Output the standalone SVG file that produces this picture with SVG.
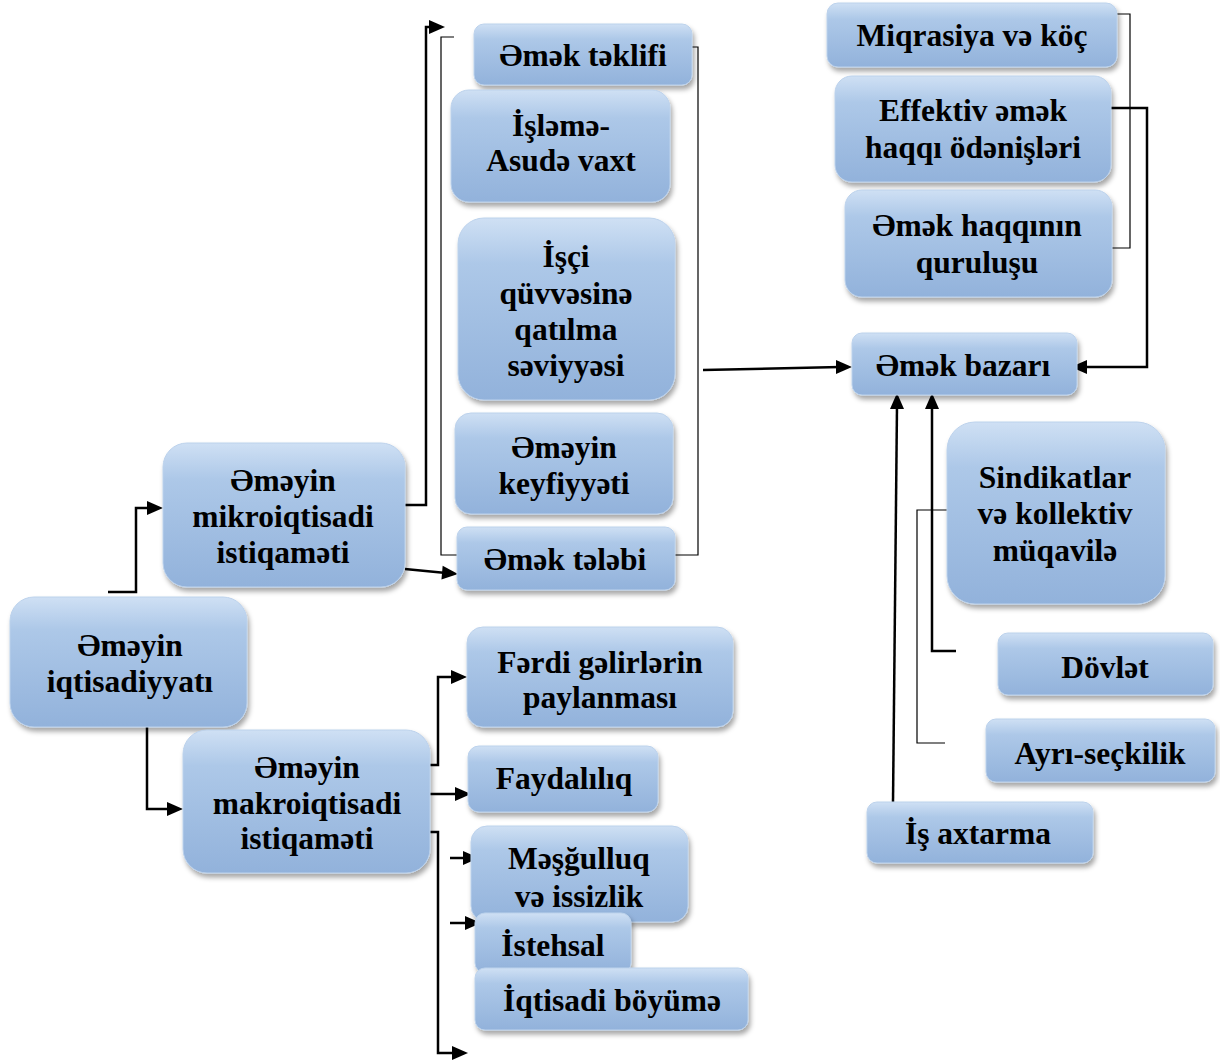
<svg xmlns="http://www.w3.org/2000/svg" width="1220" height="1063" viewBox="0 0 1220 1063">
<defs>
<linearGradient id="g" x1="0" y1="0" x2="0" y2="1">
<stop offset="0" stop-color="#cfe0f4"/>
<stop offset="0.25" stop-color="#adc8e8"/>
<stop offset="1" stop-color="#92b2db"/>
</linearGradient>
<filter id="sh" x="-10%" y="-10%" width="125%" height="130%">
<feDropShadow dx="2" dy="4" stdDeviation="2.5" flood-color="#000" flood-opacity="0.35"/>
</filter>
<path id="ar" d="M-16,-7 L0,0 L-16,7 z" fill="#000"/>
</defs>
<style>
.n rect{fill:url(#g);stroke:#bcd2ec;stroke-width:1;filter:url(#sh)}
.n text{font-family:"Liberation Serif","Times New Roman",serif;font-weight:bold;font-size:31.5px;fill:#000;text-anchor:middle}
.c{fill:none;stroke:#000;stroke-width:2.5}
.t{fill:none;stroke:#000;stroke-width:1.2}
</style>

<g id="connectors">
<path class="c" d="M108,592 H136 V508 H150"/>
<use href="#ar" x="163" y="508"/>
<path class="c" d="M117,722 H147 V809 H170"/>
<use href="#ar" x="183" y="809"/>
<path class="c" d="M405,505 H426 V27 H432"/>
<use href="#ar" x="445" y="27"/>
<path class="c" d="M405,569 L446,573"/>
<use href="#ar" transform="translate(458,574) rotate(5)"/>
<path class="t" d="M454,37 H441 V555 H457"/>
<path class="t" d="M692,47 H698 V555 H675"/>
<path class="c" d="M703,370 L840,367"/>
<use href="#ar" x="852" y="367"/>
<path class="t" d="M1117,14 H1130 V248 H1112"/>
<path class="c" d="M1111,108 H1147 V367 H1083"/>
<use href="#ar" transform="translate(1071,367) rotate(180)"/>
<path class="c" d="M893,802 L897,405"/>
<use href="#ar" transform="translate(897,393) rotate(-90)"/>
<path class="c" d="M956,651 H932 V405"/>
<use href="#ar" transform="translate(932,393) rotate(-90)"/>
<path class="t" d="M947,510 H917 V743 H945"/>
<path class="c" d="M430,765 H438 V677 H455"/>
<use href="#ar" x="467" y="677"/>
<path class="c" d="M430,794 H459"/>
<use href="#ar" x="471" y="794"/>
<path class="c" d="M430,832 H438 V1053 H456"/>
<use href="#ar" x="468" y="1053"/>
<path class="c" d="M450,858 H467"/>
<use href="#ar" x="479" y="858"/>
<path class="c" d="M450,923 H469"/>
<use href="#ar" x="481" y="923"/>
</g>

<g id="n-teklif" class="n"><rect x="474" y="24" width="218" height="61" rx="10"/><text x="583" y="66">Əmək təklifi</text></g>
<g id="n-isleme" class="n"><rect x="451" y="90" width="219" height="112" rx="18"/><text x="561" y="136">İşləmə-</text><text x="561" y="171">Asudə vaxt</text></g>
<g id="n-isci" class="n"><rect x="458" y="218" width="217" height="182" rx="26"/><text x="566" y="267">İşçi</text><text x="566" y="304">qüvvəsinə</text><text x="566" y="340">qatılma</text><text x="566" y="376">səviyyəsi</text></g>
<g id="n-keyfiyyet" class="n"><rect x="455" y="413" width="218" height="101" rx="16"/><text x="564" y="458">Əməyin</text><text x="564" y="494">keyfiyyəti</text></g>
<g id="n-teleb" class="n"><rect x="457" y="527" width="218" height="63" rx="10"/><text x="565" y="570">Əmək tələbi</text></g>
<g id="n-mikro" class="n"><rect x="163" y="443" width="242" height="144" rx="24"/><text x="283" y="491">Əməyin</text><text x="283" y="527">mikroiqtisadi</text><text x="283" y="563">istiqaməti</text></g>
<g id="n-iqtisadiyyat" class="n"><rect x="10" y="597" width="237" height="130" rx="24"/><text x="130" y="656">Əməyin</text><text x="130" y="692">iqtisadiyyatı</text></g>
<g id="n-makro" class="n"><rect x="183" y="730" width="247" height="143" rx="24"/><text x="307" y="778">Əməyin</text><text x="307" y="814">makroiqtisadi</text><text x="307" y="849">istiqaməti</text></g>
<g id="n-ferdi" class="n"><rect x="467" y="627" width="266" height="100" rx="16"/><text x="600" y="673">Fərdi gəlirlərin</text><text x="600" y="708">paylanması</text></g>
<g id="n-faydalilig" class="n"><rect x="468" y="746" width="190" height="66" rx="11"/><text x="564" y="789">Faydalılıq</text></g>
<g id="n-mesgulluq" class="n"><rect x="471" y="826" width="217" height="96" rx="16"/><text x="579" y="869">Məşğulluq</text><text x="579" y="907">və issizlik</text></g>
<g id="n-istehsal" class="n"><rect x="475" y="913" width="156" height="60" rx="10"/><text x="553" y="956">İstehsal</text></g>
<g id="n-boyume" class="n"><rect x="475" y="968" width="273" height="62" rx="10"/><text x="612" y="1011">İqtisadi böyümə</text></g>
<g id="n-miqrasiya" class="n"><rect x="827" y="3" width="290" height="64" rx="11"/><text x="972" y="46">Miqrasiya və köç</text></g>
<g id="n-effektiv" class="n"><rect x="835" y="76" width="276" height="106" rx="17"/><text x="973" y="121">Effektiv əmək</text><text x="973" y="158">haqqı ödənişləri</text></g>
<g id="n-quruluş" class="n"><rect x="845" y="190" width="267" height="107" rx="17"/><text x="977" y="236">Əmək haqqının</text><text x="977" y="273">quruluşu</text></g>
<g id="n-bazar" class="n"><rect x="852" y="333" width="225" height="62" rx="10"/><text x="963" y="376">Əmək bazarı</text></g>
<g id="n-sindikat" class="n"><rect x="947" y="422" width="218" height="182" rx="28"/><text x="1055" y="488">Sindikatlar</text><text x="1055" y="524">və kollektiv</text><text x="1055" y="561">müqavilə</text></g>
<g id="n-dovlet" class="n"><rect x="998" y="633" width="215" height="62" rx="10"/><text x="1105" y="678">Dövlət</text></g>
<g id="n-ayri" class="n"><rect x="986" y="719" width="229" height="63" rx="10"/><text x="1100" y="764">Ayrı-seçkilik</text></g>
<g id="n-isaxtarma" class="n"><rect x="867" y="802" width="226" height="61" rx="10"/><text x="978" y="844">İş axtarma</text></g>
</svg>
